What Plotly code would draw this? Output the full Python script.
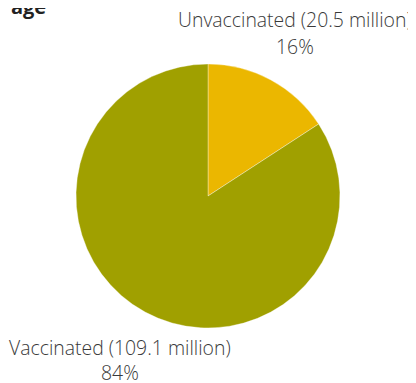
import plotly.graph_objects as go

labels = ["Unvaccinated", "Vaccinated"]
millions = [20.5, 109.1]
shares = ["16%", "84%"]
colors = ["#EBB700", "#A0A000"]

# label positions in paper coords (center of each text line)
label_x = [0.718, 0.28]
label_y = [[1.167, 1.065], [-0.072, -0.167]]

fig = go.Figure()
fig.add_trace(go.Pie(
    labels=labels, values=millions,
    textinfo="none",
    marker=dict(colors=colors, line=dict(color="rgba(255,255,255,0.35)", width=1)),
    sort=False, direction="clockwise", rotation=0,
    hoverinfo="label+value+percent",
    showlegend=False,
))
for l, m, s, x, ys in zip(labels, millions, shares, label_x, label_y):
    for t, y in zip([f"{l} ({m} million)", s], ys):
        fig.add_annotation(text=t, xref="paper", yref="paper", x=x, y=y,
                           xanchor="center", yanchor="middle", showarrow=False,
                           font=dict(family="Open Sans", size=19.4, color="#3a3a3a", weight=300))
# Titel ist oben abgeschnitten, wie im Original
fig.add_annotation(text="<b>Vaccination Coverage</b>", xref="paper", yref="paper",
                   x=0.1, y=1.159, xanchor="right", yanchor="bottom", showarrow=False,
                   font=dict(family="Open Sans", size=20, color="#222"))
fig.update_layout(width=416, height=383, margin=dict(l=0, r=16, t=56, b=63, autoexpand=False),
                  paper_bgcolor="white", font=dict(family="Open Sans"))
fig.write_html("out.html")
